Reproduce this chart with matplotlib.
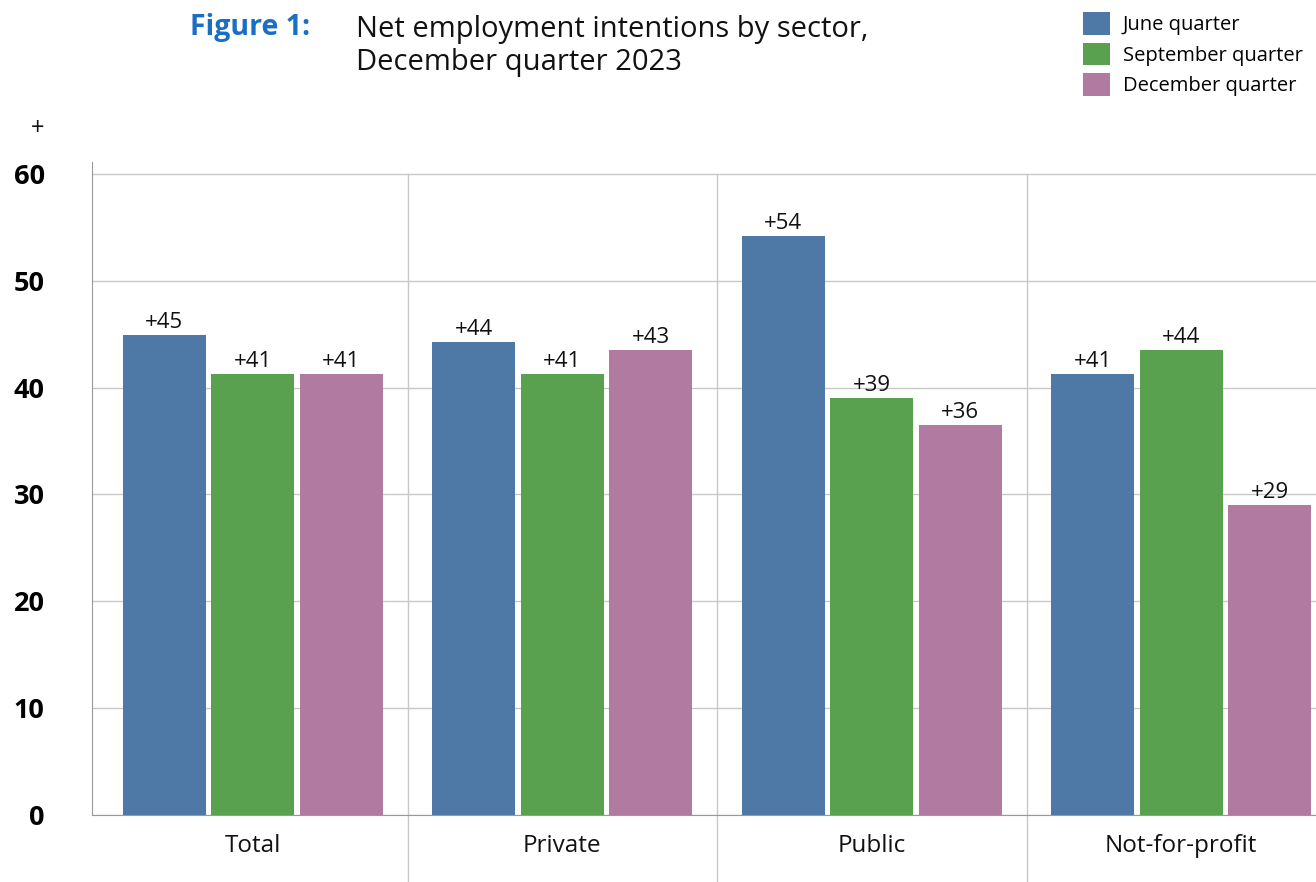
import numpy as np
import matplotlib.pyplot as plt

plt.rcParams['font.family'] = ['Open Sans', 'DejaVu Sans']

# --- data ---
sectors = ['Total', 'Private', 'Public', 'Not-for-profit']
series_names = ['June quarter', 'September quarter', 'December quarter']
june = [44.9, 44.3, 54.2, 41.3]
september = [41.3, 41.3, 39.0, 43.5]
december = [41.3, 43.5, 36.5, 29.0]
june_labels = ['+45', '+44', '+54', '+41']
september_labels = ['+41', '+41', '+39', '+44']
december_labels = ['+41', '+43', '+36', '+29']
colors = ['#4E79A7', '#59A14F', '#B07AA1']

W, H = 1316, 882
fig = plt.figure(figsize=(W / 100, H / 100), dpi=100)
# axes runs past the right edge, as in the original
ax = fig.add_axes([92 / W, (H - 815) / H, (1336 - 92) / W, (815 - 162) / H])

x = np.arange(len(sectors))
offset = 0.286
width = 0.268
all_vals = [june, september, december]
all_labels = [june_labels, september_labels, december_labels]
for i, (vals, labs) in enumerate(zip(all_vals, all_labels)):
    pos = x + (i - 1) * offset
    ax.bar(pos, vals, width=width, color=colors[i], label=series_names[i], zorder=3)
    for p, v, t in zip(pos, vals, labs):
        ax.text(p, v + 0.65, t, ha='center', va='baseline', fontsize=16, color='#111111')

ax.set_xlim(-0.52, 3.5)
ax.set_ylim(0, 61.1)
ax.set_yticks(range(0, 61, 10))
ax.set_yticklabels([str(v) for v in range(0, 61, 10)], fontsize=19.5, fontweight='bold')
ax.tick_params(axis='y', length=0, pad=34)
ax.set_xticks([])
ax.grid(axis='y', color='#c8c8c8', linewidth=1, zorder=0)

# group separators, running down through the category labels
for b in [0.5, 1.5, 2.5]:
    ax.plot([b, b], [-6.4, 60], color='#c8c8c8', linewidth=1, clip_on=False, zorder=1)
for xi, s in zip(x, sectors):
    ax.text(xi, -3.46, s, ha='center', va='baseline', fontsize=17.5, color='#111111')

for side in ['top', 'right']:
    ax.spines[side].set_visible(False)
ax.spines['left'].set_color('#999999')
ax.spines['bottom'].set_color('#999999')
ax.spines['bottom'].set_zorder(4)

fig.text(38 / W, 1 - 129 / H, '+', ha='center', va='center', fontsize=17, color='#111111')

fig.text(310 / W, 1 - 28 / H, 'Figure 1:', ha='right', va='center', fontsize=20.5,
         fontweight='bold', color='#1A6FC4')
fig.text(356 / W, 1 - 46 / H, 'Net employment intentions by sector,\nDecember quarter 2023',
         ha='left', va='center', fontsize=21, color='#111111', linespacing=1.16)

fig.legend(loc='upper left', bbox_to_anchor=(1075 / W, 1 - 4 / H), frameon=False,
           fontsize=14.5, handlelength=1.34, handleheight=1.34, handletextpad=0.62,
           labelspacing=0.38, borderaxespad=0)

fig.savefig('out.png', dpi=100)
